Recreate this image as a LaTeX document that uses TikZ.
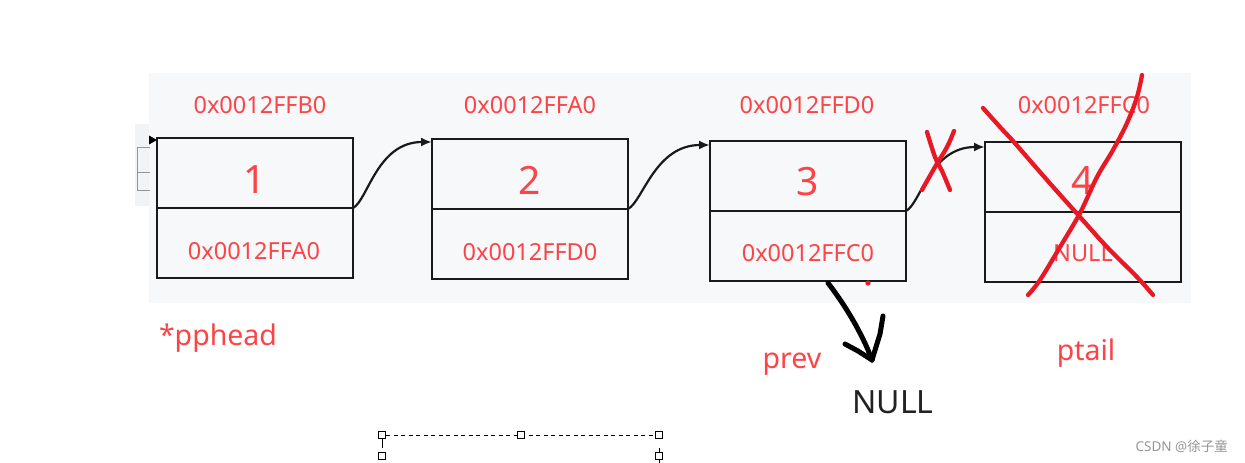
\documentclass[tikz,border=0pt]{standalone}
\usepackage{fontspec}
\setmainfont{Noto Sans}
\newfontfamily\cjkfont{Noto Sans CJK SC}
\usetikzlibrary{arrows.meta}
\definecolor{bgg}{RGB}{247,248,250}
\definecolor{bgl}{RGB}{242,243,245}
\definecolor{txtred}{RGB}{252,68,72}
\definecolor{penred}{RGB}{232,24,36}
\definecolor{boxline}{RGB}{26,26,26}
\definecolor{nullcol}{RGB}{34,34,34}
\definecolor{wm}{RGB}{150,150,150}
\begin{document}
\begin{tikzpicture}[x=1pt,y=-1pt,
  cell/.style={draw=boxline, line width=2.5pt, minimum width=196pt, minimum height=70pt, inner sep=0pt, outer sep=0pt},
  addr/.style={text=txtred, font=\fontsize{23.5}{26}\selectfont, anchor=base, inner sep=0pt},
  num/.style={text=txtred, font=\fontsize{39}{44}\selectfont, anchor=base, inner sep=0pt},
  lbl/.style={text=txtred, font=\fontsize{28.5}{32}\selectfont, anchor=base, inner sep=0pt},
  link/.style={draw=boxline, line width=2.2pt, -{Latex[length=11pt,width=9pt]}},
  pen/.style={draw=penred, line width=4.3pt, line cap=round, line join=round},
  ink/.style={draw=black, line width=5pt, line cap=round, line join=round},
  handle/.style={draw=black, line width=1pt, fill=white}]
\useasboundingbox (0,0) rectangle (1245,463);
\fill[white] (0,0) rectangle (1245,463);
\fill[bgg] (149,73) rectangle (1191,303);
% left partial element
\fill[bgl] (135,124) rectangle (149,206);
\draw[wm, line width=1pt] (150,147) -- (137,147) -- (137,190) -- (150,190);
\draw[wm, line width=1pt] (137,172) -- (150,172);
\fill[black] (149,135.5) -- (157,140) -- (149,144.5) -- cycle;
% boxes
\node[cell] (b1t) at (255,173) {};
\node[cell] (b1b) at (255,243) {};
\node[cell] (b2t) at (530,174) {};
\node[cell] (b2b) at (530,244) {};
\node[cell] (b3t) at (808,176) {};
\node[cell] (b3b) at (808,246) {};
\node[cell] (b4t) at (1083,177) {};
\node[cell] (b4b) at (1083,247) {};
% addresses above
\node[addr] (a1) at (260,113) {0x0012FFB0};
\node[addr] (a2) at (530,113) {0x0012FFA0};
\node[addr] (a3) at (807,113) {0x0012FFD0};
\node[addr] (a4) at (1084,113) {0x0012FFC0};
% data
\node[num] (n1) at (255,193) {1};
\node[num] (n2) at (530,194) {2};
\node[num] (n3) at (808,195) {3};
\node[num] (n4) at (1083,194) {4};
% next pointers
\node[addr] (p1) at (254,259) {0x0012FFA0};
\node[addr] (p2) at (530,260) {0x0012FFD0};
\node[addr] (p3) at (808,261) {0x0012FFC0};
\node[addr] (p4) at (1083,261) {NULL};
% links
\draw[link] (b1t.south east) .. controls +(15,-8) and +(-55,0) .. ([yshift=-3pt]b2t.north west);
\draw[link] (b2t.south east) .. controls +(15,-8) and +(-55,0) .. ([yshift=-4pt]b3t.north west);
\draw[link] (b3t.south east) .. controls +(15,-8) and +(-55,0) .. ([yshift=-5pt]b4t.north west);
% labels
\node[lbl] (pph) at (218,345) {*pphead};
\node[lbl] (prev) at (792,368) {prev};
\node[lbl] (ptail) at (1086,360) {ptail};
\node[anchor=base, inner sep=0pt, text=nullcol, font=\fontsize{32}{36}\selectfont] (nul) at (893,413) {NULL};
% red strikes
\draw[pen] plot[smooth, tension=0.6] coordinates {(983,108) (1000,127) (1013,141) (1033,164) (1054,188) (1080,217) (1107,247) (1137,277) (1153,295)};
\draw[pen] plot[smooth, tension=0.6] coordinates {(1142,75) (1137,97) (1127,123) (1113,150) (1097,177) (1080,213) (1060,247) (1040,280) (1028,295)};
\draw[pen] plot[smooth, tension=0.6] coordinates {(927,132) (935,157) (942,171) (950,190)};
\draw[pen] plot[smooth, tension=0.6] coordinates {(954,131) (947,147) (935,167) (922,190)};
% hand-drawn black arrow
\coordinate (inkstart) at (828,283);
\coordinate (inktip) at (872,360);
\draw[ink] (inkstart) .. controls (845,305) and (862,333) .. (inktip);
\draw[ink] (845,344) -- (858,351) -- (inktip);
\draw[ink] (883,316) -- (880,334) -- (inktip);
\fill[penred] (868,283) circle (2.6);
% selection handles
\draw[black, line width=0.8pt, dash pattern=on 4pt off 3.5pt] (386,435) -- (655,435);
\draw[black, line width=0.8pt] (382,439) -- (382,448);
\draw[black, line width=0.8pt] (659,448) -- (659,463);
\foreach \hx/\hy in {382/435, 520.5/435, 659/435, 382/456, 659/456}
  \draw[handle] (\hx-3.5,\hy-3.5) rectangle (\hx+3.5,\hy+3.5);
% watermark
\node[anchor=east, inner sep=0pt, text=wm, font=\fontsize{13.5}{15}\selectfont] (wmk) at (1228,446) {CSDN @{\cjkfont 徐子童}};
\end{tikzpicture}
\end{document}
